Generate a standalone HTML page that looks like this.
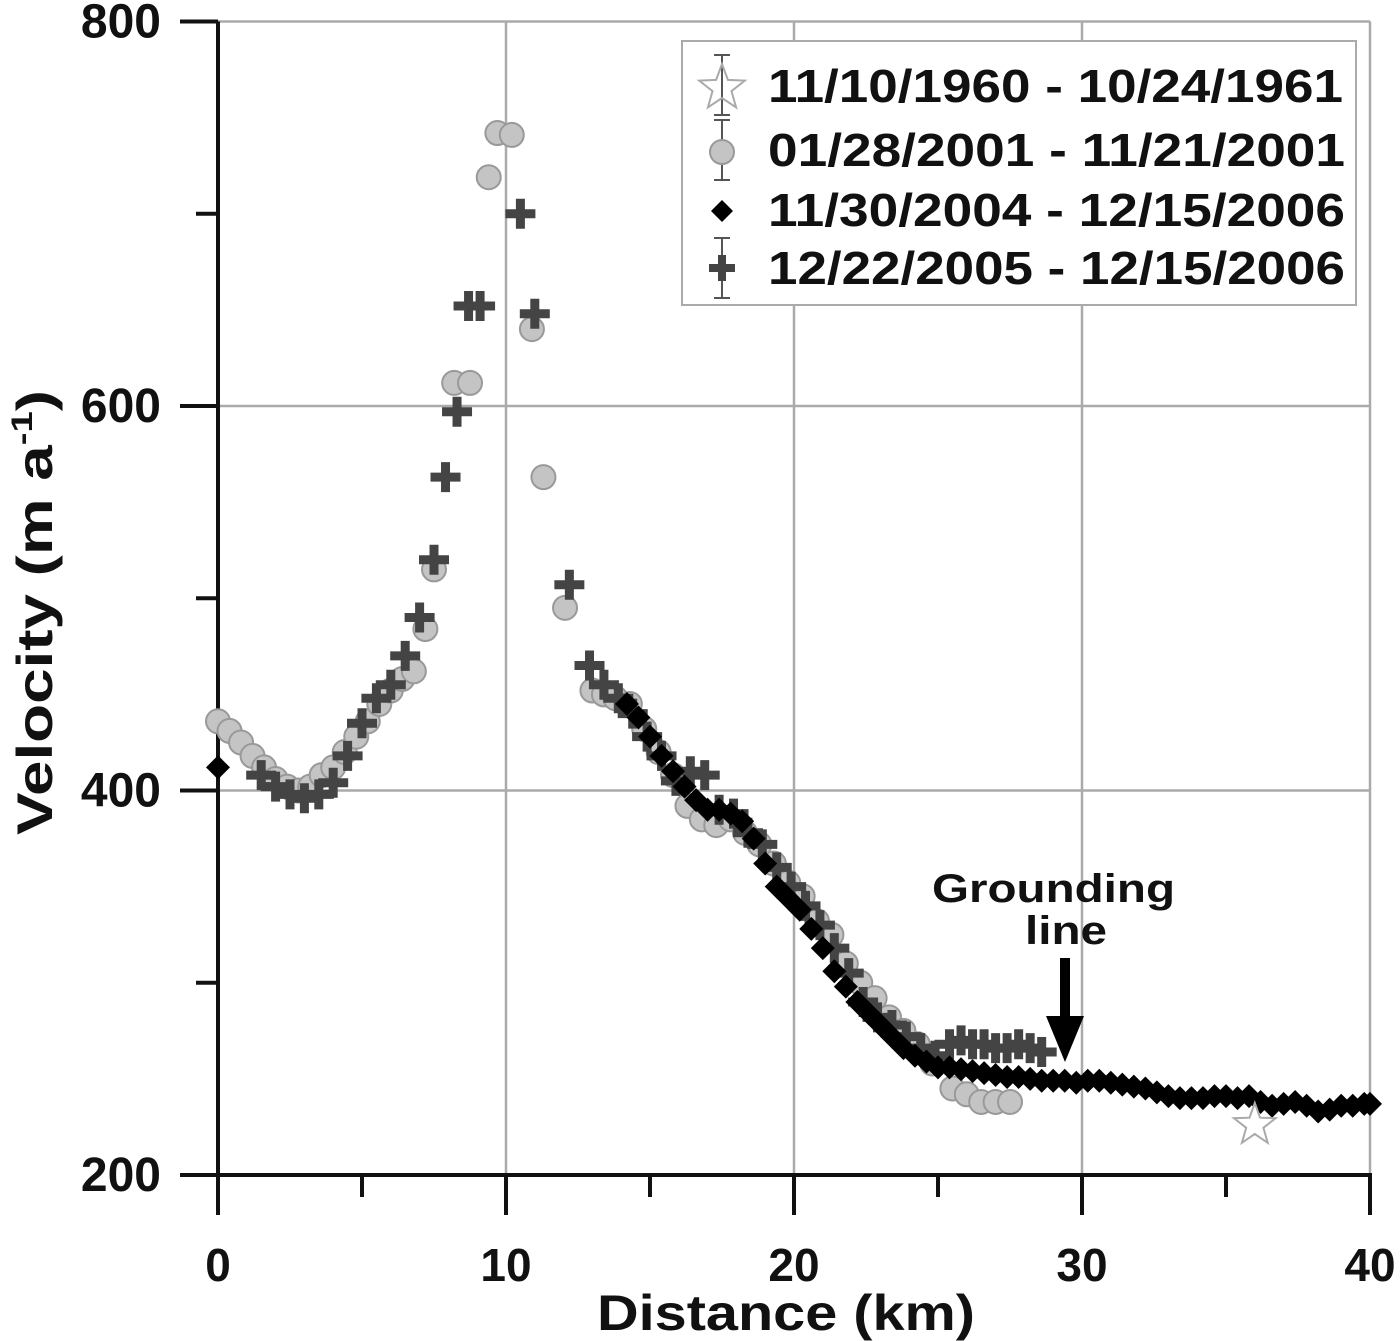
<!DOCTYPE html>
<html><head><meta charset="utf-8"><style>
body{margin:0;background:#fff}
svg{display:block}
text{font-family:"Liberation Sans",Arial,sans-serif;font-weight:bold;fill:#111}
</style></head><body>
<svg id="chart" width="1400" height="1341" viewBox="0 0 1400 1341" xmlns="http://www.w3.org/2000/svg">
<g id="grid"></g>
<g id="axes"></g>
<g id="marks"></g>
<g id="legend">
<rect x="682" y="41" width="674" height="264" fill="#fff" stroke="#aaa" stroke-width="2"/>
<text x="768" y="102" font-size="46" textLength="575" lengthAdjust="spacingAndGlyphs">11/10/1960 - 10/24/1961</text>
<text x="768" y="166" font-size="46" textLength="577" lengthAdjust="spacingAndGlyphs">01/28/2001 - 11/21/2001</text>
<text x="768" y="226" font-size="46" textLength="577" lengthAdjust="spacingAndGlyphs">11/30/2004 - 12/15/2006</text>
<text x="768" y="284" font-size="46" textLength="577" lengthAdjust="spacingAndGlyphs">12/22/2005 - 12/15/2006</text>
</g>
<text x="932" y="902" font-size="40" textLength="243" lengthAdjust="spacingAndGlyphs">Grounding</text>
<text x="1025" y="944" font-size="40" textLength="82" lengthAdjust="spacingAndGlyphs">line</text>
<g>
<rect x="1060" y="958" width="10" height="62" fill="#000"/>
<polygon points="1046,1016 1084,1016 1065,1062" fill="#000"/>
</g>
<text x="597" y="1330" font-size="50" textLength="378" lengthAdjust="spacingAndGlyphs">Distance (km)</text>
<text transform="translate(52,835) rotate(-90)" font-size="50" textLength="445" lengthAdjust="spacingAndGlyphs">Velocity (m a<tspan font-size="30" dy="-20">-1</tspan><tspan dy="20">)</tspan></text>
</svg>
<script>
const xTicks=[0,10,20,30,40];
const yTicks=[200,400,600,800];
const c2001X=[0,0.4,0.8,1.2,1.6,2,2.4,2.8,3.2,3.6,4,4.4,4.8,5.2,5.6,6,6.4,6.8,7.2,7.5,8.2,8.75,9.4,9.7,10.2,10.9,11.3,12.05,13,13.4,13.8,14.3,14.8,15.3,15.8,16.3,16.8,17.3,17.8,18.3,18.8,19.3,19.8,20.3,20.8,21.3,21.8,22.3,22.8,23.3,23.8,24.3,24.8,25.5,26,26.5,27,27.5];
const c2001V=[436,431,425,418,412,406,402,400,402,408,412,420,428,436,445,452,458,462,484,515,612,612,719,742,741,640,563,495,452,450,448,445,432,420,408,392,385,382,385,378,372,362,352,345,332,325,310,300,292,282,275,268,258,245,242,238,238,238];
const d2004X=[0,14.2,14.6,15,15.4,15.8,16.2,16.6,17,17.4,17.8,18.2,18.6,19,19.4,19.8,20.2,20.6,21,21.4,21.8,22.2,22.6,23,23.4,23.8,24.2,24.6,25,25.4,25.8,26.2,26.6,27,27.4,27.8,28.2,28.6,29,29.4,29.8,30.2,30.6,31,31.4,31.8,32.2,32.6,33,33.4,33.8,34.2,34.6,35,35.4,35.8,36.2,36.6,37,37.4,37.8,38.2,38.6,39,39.4,39.8,40];
const d2004V=[412,445,438,428,418,410,402,395,390,390,388,384,375,362,350,344,338,328,318,306,298,290,284,278,272,266,262,259,256,256,255,254,253,252,251,251,250,249,249,249,248,249,249,248,247,246,245,243,241,240,240,240,241,241,240,241,238,236,237,238,236,233,234,236,236,237,237];
const p2005X=[1.5,2,2.5,3,3.5,4,4.5,5,5.5,6,6.5,7,7.5,7.9,8.3,8.7,9.1,10.5,11,12.2,12.9,13.4,13.9,14.4,14.9,15.4,15.9,16.4,16.9,17.4,17.9,18.4,18.9,19.4,19.9,20.4,20.9,21.4,21.9,22.4,22.9,23.4,23.9,24.4,24.9,25.4,25.8,26.2,26.6,27,27.4,27.8,28.2,28.6];
const p2005V=[408,402,398,396,398,404,418,435,448,455,470,490,520,563,597,652,652,700,648,507,465,455,448,440,428,418,405,410,408,390,388,378,372,360,350,340,330,318,305,290,282,278,272,266,262,268,270,268,268,266,266,268,266,264];
const starX=[36];
const starV=[226];

const NS='http://www.w3.org/2000/svg';
const X0=218,XS=28.8,Y0=1175,YS=1.9225;
function sx(k){return X0+k*XS;}
function sy(v){return Y0-(v-200)*YS;}
function mk(tag,attrs,parent){const e=document.createElementNS(NS,tag);for(const k in attrs)e.setAttribute(k,attrs[k]);parent.appendChild(e);return e;}
const grid=document.getElementById('grid'),axes=document.getElementById('axes'),marks=document.getElementById('marks');
xTicks.forEach(t=>{
  if(t>0){const l=mk('line',{x1:sx(t),x2:sx(t),y1:sy(800),y2:sy(200),stroke:'#aaa','stroke-width':2.5},grid);
  
  }
  const tk=mk('line',{x1:sx(t),x2:sx(t),y1:Y0,y2:Y0+40,stroke:'#111','stroke-width':4},axes);
  
  
  const m=mk('line',{x1:sx(t+5),x2:sx(t+5),y1:Y0,y2:Y0+22,stroke:'#111','stroke-width':4},axes);
  if(t===40)m.remove();
  
  
  const tx=mk('text',{x:sx(t),y:1281,'font-size':46,'text-anchor':'middle'},axes);tx.textContent=t;
  
  
});
yTicks.forEach(t=>{
  if(t>200){const l=mk('line',{x1:X0,x2:sx(40),y1:sy(t),y2:sy(t),stroke:'#aaa','stroke-width':2.5},grid);
  
  }
  const tk=mk('line',{x1:X0-38,x2:X0,y1:sy(t),y2:sy(t),stroke:'#111','stroke-width':4},axes);
  
  
  if(t<800){const m=mk('line',{x1:X0-22,x2:X0,y1:sy(t+100),y2:sy(t+100),stroke:'#111','stroke-width':4},axes);
  
  }
  const tx=mk('text',{x:161,y:sy(t)+16,'font-size':48,'text-anchor':'end'},axes);tx.textContent=t;
  
  
});
const ya=mk('line',{x1:X0,x2:X0,y1:sy(800),y2:Y0,stroke:'#111','stroke-width':4},axes);


const xa=mk('line',{x1:180,x2:sx(40)+2,y1:Y0,y2:Y0,stroke:'#111','stroke-width':4},axes);



c2001X.forEach((k,i)=>{const c=mk('circle',{cx:sx(k),cy:sy(c2001V[i]),r:12,fill:'#c4c4c4',stroke:'#999','stroke-width':2},marks);
  
  });
p2005X.forEach((k,i)=>{const x=sx(k),y=sy(p2005V[i]);
  const p=mk('path',{d:`M${x-15} ${y}H${x+15}M${x} ${y-15}V${y+15}`,stroke:'#444','stroke-width':9,fill:'none'},marks);
  
  });
d2004X.forEach((k,i)=>{const x=sx(k),y=sy(d2004V[i]);
  const d=mk('polygon',{points:`${x},${y-12} ${x+12},${y} ${x},${y+12} ${x-12},${y}`,fill:'#000'},marks);
  
  });
starX.forEach((k,i)=>{const x=sx(k),y=sy(starV[i]);let pts=[];
  for(let j=0;j<10;j++){const r=j%2?9:22,a=-Math.PI/2+j*Math.PI/5;pts.push((x+r*Math.cos(a)).toFixed(1)+','+(y+r*Math.sin(a)).toFixed(1));}
  const s=mk('polygon',{points:pts.join(' '),fill:'#fff',stroke:'#aaa','stroke-width':2},marks);
  
  });

const lg=document.getElementById('legend');
[[722,85],[722,150],[722,268]].forEach(([x,y])=>{mk('path',{d:`M${x-8} ${y-30}H${x+8}M${x} ${y-30}V${y+30}M${x-8} ${y+30}H${x+8}`,stroke:'#555','stroke-width':2,fill:'none'},lg);});
let sp=[];for(let j=0;j<10;j++){const r=j%2?10:24,a=-Math.PI/2+j*Math.PI/5;sp.push((722+r*Math.cos(a)).toFixed(1)+','+(88+r*Math.sin(a)).toFixed(1));}
mk('polygon',{points:sp.join(' '),fill:'none',stroke:'#aaa','stroke-width':2},lg);
mk('circle',{cx:722,cy:152,r:12,fill:'#c4c4c4',stroke:'#999','stroke-width':2},lg);
mk('polygon',{points:'722,200 733,211 722,222 711,211',fill:'#000'},lg);
mk('path',{d:'M709 268H735M722 255V281',stroke:'#444','stroke-width':8},lg);
</script>
</body></html>
